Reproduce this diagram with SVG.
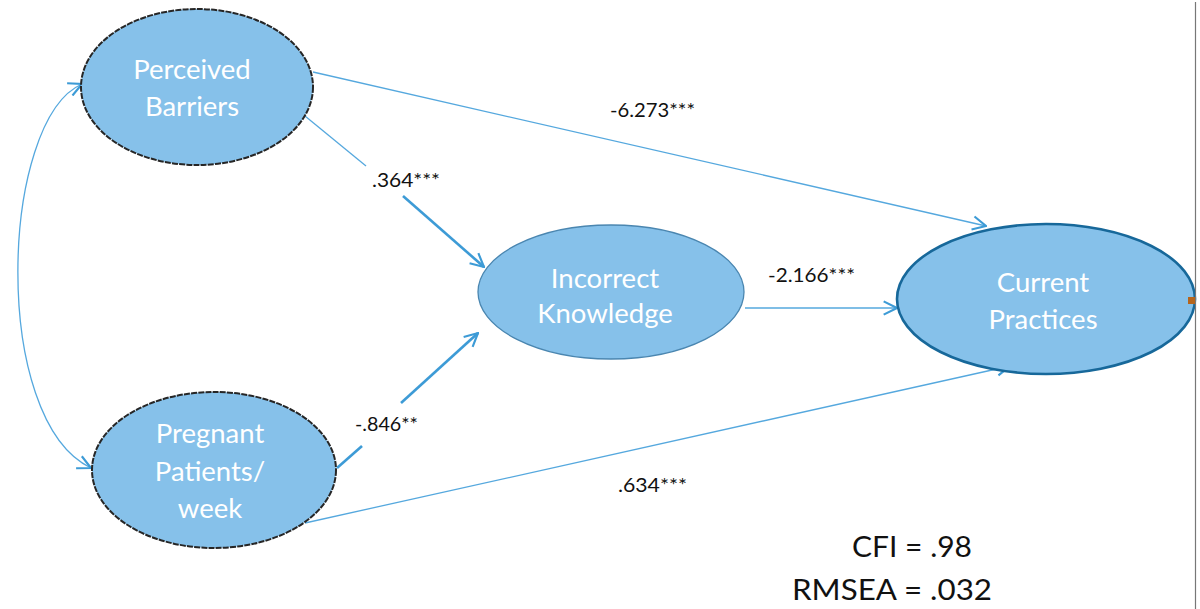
<svg xmlns="http://www.w3.org/2000/svg" width="1200" height="609" viewBox="0 0 1200 609">
<defs>
<marker id="arrB" viewBox="0 0 12 12" refX="11" refY="6" markerWidth="16" markerHeight="16" markerUnits="userSpaceOnUse" orient="auto-start-reverse">
<polyline points="1,1 11,6 1,11" fill="none" stroke="#3d9bd6" stroke-width="1.6"/>
</marker>
</defs>
<style>
.node{fill:#86c1ea;stroke:#262626;stroke-width:2;stroke-dasharray:6 1.2}
.nt{font-family:Lato,"Open Sans",sans-serif;font-size:27.5px;fill:#ffffff;text-anchor:middle}
.thin{fill:none;stroke:#55a8de;stroke-width:1.3}
.thick{fill:none;stroke:#3d9bd6;stroke-width:2.6}
.lbl{font-family:Lato,"Liberation Sans",sans-serif;font-size:18.5px;fill:#111}
.fit{font-family:Lato,"Liberation Sans",sans-serif;font-size:29px;fill:#111}
</style>
<rect width="1200" height="609" fill="#ffffff"/>
<g id="connectors">
<path class="thin" d="M 82 84 C 0 120, -10 420, 91 468" stroke-width="2.2" marker-start="url(#arrB)" marker-end="url(#arrB)"/>
<line class="thin" x1="313" y1="72" x2="986" y2="226" marker-end="url(#arrB)"/>
<line class="thin" x1="305" y1="116" x2="366" y2="166"/>
<line class="thick" x1="403" y1="196" x2="484" y2="267" marker-end="url(#arrB)"/>
<line class="thick" x1="337" y1="468" x2="362" y2="446"/>
<line class="thick" x1="401" y1="403" x2="478" y2="333" marker-end="url(#arrB)"/>
<line class="thin" x1="745" y1="308" x2="897" y2="308" marker-end="url(#arrB)"/>
<line class="thin" x1="305" y1="523" x2="1010" y2="366" marker-end="url(#arrB)"/>
</g>
<g id="node-perceived">
<ellipse class="node" cx="197" cy="87" rx="116" ry="78"/>
<text class="nt" x="192" y="79">Perceived</text>
<text class="nt" x="192" y="116">Barriers</text>
</g>
<g id="node-pregnant">
<ellipse class="node" cx="214" cy="470" rx="122" ry="78"/>
<text class="nt" x="210" y="443">Pregnant</text>
<text class="nt" x="210" y="481">Patients/</text>
<text class="nt" x="210" y="518">week</text>
</g>
<g id="node-incorrect">
<ellipse class="node" cx="611" cy="292" rx="133" ry="67" style="stroke:#4a86b0;stroke-width:1.3;stroke-dasharray:none"/>
<text class="nt" x="605" y="288">Incorrect</text>
<text class="nt" x="605" y="323">Knowledge</text>
</g>
<g id="node-current">
<ellipse class="node" cx="1046" cy="299" rx="149" ry="75" style="stroke:#17689a;stroke-width:2.6;stroke-dasharray:none"/>
<text class="nt" x="1043" y="292">Current</text>
<text class="nt" x="1043" y="329">Practices</text>
</g>
<g id="labels">
<text class="lbl" x="610" y="117" textLength="85" lengthAdjust="spacingAndGlyphs">-6.273***</text>
<text class="lbl" x="372" y="187" textLength="68" lengthAdjust="spacingAndGlyphs">.364***</text>
<text class="lbl" x="768" y="282" textLength="87" lengthAdjust="spacingAndGlyphs">-2.166***</text>
<text class="lbl" x="355" y="431" textLength="63" lengthAdjust="spacingAndGlyphs">-.846**</text>
<text class="lbl" x="618" y="492" textLength="69" lengthAdjust="spacingAndGlyphs">.634***</text>
<text class="fit" x="852" y="557" textLength="120" lengthAdjust="spacingAndGlyphs">CFI = .98</text>
<text class="fit" x="792" y="600" textLength="200" lengthAdjust="spacingAndGlyphs">RMSEA = .032</text>
</g>
<line x1="1195.5" y1="2" x2="1195.5" y2="609" stroke="#777" stroke-width="1.2"/>
<rect x="1188" y="297" width="7" height="7" fill="#b5651d"/>
</svg>
